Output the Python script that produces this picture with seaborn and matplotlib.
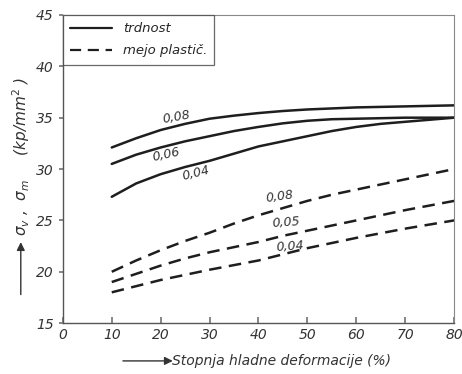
import matplotlib
matplotlib.use("Agg")
import matplotlib.pyplot as plt
import pandas as pd
import seaborn as sns

# stopnja hladne deformacije (%)
deformacija = [10, 15, 20, 25, 30, 35, 40, 45, 50, 55, 60, 65, 70, 75, 80]

# trdnost (kp/mm2) za %C = 0,08 / 0,06 / 0,04
trdnost_008 = [32.1, 33.0, 33.8, 34.4, 34.9, 35.2, 35.45, 35.65, 35.8, 35.9, 36.0, 36.05, 36.1, 36.15, 36.2]
trdnost_006 = [30.5, 31.4, 32.1, 32.7, 33.2, 33.7, 34.1, 34.45, 34.7, 34.85, 34.9, 34.95, 35.0, 35.0, 35.0]
trdnost_004 = [27.3, 28.6, 29.5, 30.2, 30.8, 31.5, 32.2, 32.7, 33.2, 33.7, 34.1, 34.4, 34.6, 34.8, 35.0]

# meja plasticnosti (kp/mm2)
meja_008 = [20.0, 21.1, 22.1, 23.0, 23.8, 24.7, 25.5, 26.2, 26.9, 27.5, 28.0, 28.5, 29.0, 29.5, 30.0]
meja_006 = [19.0, 19.8, 20.6, 21.3, 21.9, 22.4, 22.9, 23.5, 24.0, 24.5, 25.0, 25.5, 26.0, 26.45, 26.9]
meja_004 = [18.0, 18.6, 19.2, 19.7, 20.2, 20.65, 21.1, 21.7, 22.3, 22.8, 23.3, 23.75, 24.2, 24.6, 25.0]

x_ticks = [0, 10, 20, 30, 40, 50, 60, 70, 80]
y_ticks = [15, 20, 25, 30, 35, 40, 45]

rows = []
for vrsta, serije in [
    ("trdnost", {"0,08": trdnost_008, "0,06": trdnost_006, "0,04": trdnost_004}),
    ("mejo plastič.", {"0,08": meja_008, "0,06": meja_006, "0,04": meja_004}),
]:
    for c, vals in serije.items():
        for xv, yv in zip(deformacija, vals):
            rows.append({"x": xv, "y": yv, "vrsta": vrsta, "C": c})
df = pd.DataFrame(rows)

sns.set_theme(style="ticks")
plt.rcParams["font.family"] = ["DejaVu Sans"]

fig = plt.figure(figsize=(4.62, 3.74), dpi=100)
ax = fig.add_axes([0.136, 0.136, 0.847, 0.824])

ink = "#1e1e1e"
sns.lineplot(
    data=df, x="x", y="y", style="vrsta", units="C", estimator=None,
    color=ink, linewidth=1.8, ax=ax,
    dashes={"trdnost": "", "mejo plastič.": (5, 3)},
)

# oznake krivulj (%C)
oznake = [
    ("0,08", 23.2, 35.1, 10), ("0,06", 21.2, 31.4, 12), ("0,04", 27.3, 29.6, 14),
    ("0,08", 44.4, 27.3, 8), ("0,05", 45.7, 24.8, 4), ("0,04", 46.4, 22.5, 4),
]
for txt, xv, yv, rot in oznake:
    ax.text(xv, yv, txt, fontsize=9, style="italic", color="#333333", rotation=rot,
            ha="center", va="center")

ax.set_xlim(0, 80)
ax.set_ylim(15, 45)
ax.set_xticks(x_ticks)
ax.set_yticks(y_ticks)
ax.set_xticklabels([str(t) for t in x_ticks], style="italic", fontsize=10, color="#333333")
ax.set_yticklabels([str(t) for t in y_ticks], style="italic", fontsize=10, color="#333333")
ax.tick_params(axis="x", direction="in", length=4, color="#777777")
ax.tick_params(axis="y", direction="out", length=3, color="#777777")
ax.set_xlabel("")
ax.set_ylabel("")
for s in ["top", "right"]:
    ax.spines[s].set_color("#888888")
    ax.spines[s].set_linewidth(0.8)
for s in ["left", "bottom"]:
    ax.spines[s].set_color("#555555")
    ax.spines[s].set_linewidth(1.0)

leg = ax.legend(loc="upper left", frameon=True, fancybox=False, borderaxespad=0,
                prop={"style": "italic", "size": 9.5}, handlelength=3.2,
                borderpad=0.55, labelspacing=0.7)
leg.get_frame().set_edgecolor("#444444")
leg.get_frame().set_linewidth(0.9)
for h in leg.get_lines():
    h.set_color(ink)
    h.set_linewidth(1.6)

# osi z puscicami
fig.text(0.045, 0.37, "σ$_v$ ,  σ$_m$     (kp/mm$^2$ )", rotation=90, fontsize=11,
         style="italic", ha="center", va="bottom", color="#333333")
ax.annotate("", xy=(0.045, 0.36), xytext=(0.045, 0.205), xycoords="figure fraction",
            arrowprops=dict(arrowstyle="-|>", color="#333333", lw=1.0))
fig.text(0.61, 0.035, "Stopnja hladne deformacije (%)", fontsize=10,
         style="italic", ha="center", va="center", color="#333333")
ax.annotate("", xy=(0.38, 0.035), xytext=(0.26, 0.035), xycoords="figure fraction",
            arrowprops=dict(arrowstyle="-|>", color="#333333", lw=1.0))

fig.savefig("out.png", dpi=100)
